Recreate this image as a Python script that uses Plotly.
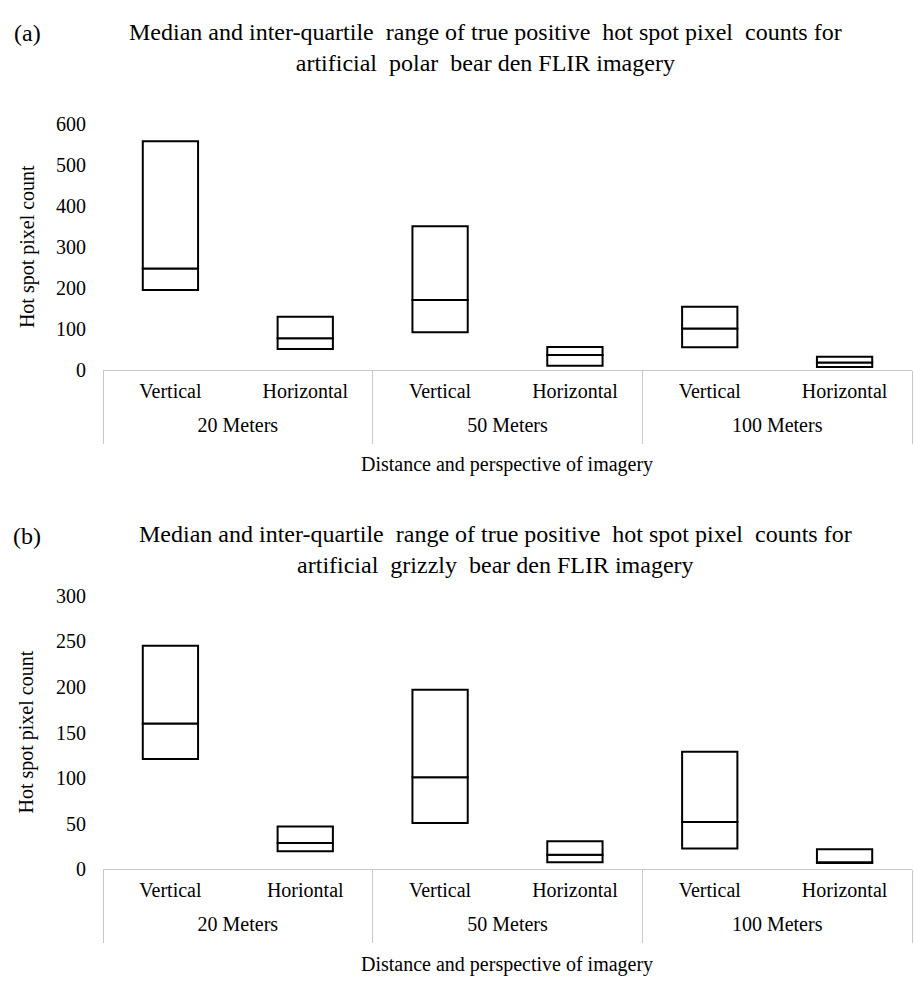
import plotly.graph_objects as go

# ---- data ----
groups = ["20 Meters", "20 Meters", "50 Meters", "50 Meters", "100 Meters", "100 Meters"]
persp_a = ["Vertical", "Horizontal", "Vertical", "Horizontal", "Vertical", "Horizontal"]
persp_b = ["Vertical", "Horiontal", "Vertical", "Horizontal", "Vertical", "Horizontal"]

q1_a = [195, 51, 92, 10, 55, 7]
med_a = [248, 77, 171, 36, 101, 18]
q3_a = [559, 130, 351, 56, 154, 32]

q1_b = [121, 20, 51, 8, 23, 7]
med_b = [160, 29, 101, 16, 52, 8]
q3_b = [245, 47, 197, 31, 129, 22]

title_a = ("Median and inter-quartile  range of true positive  hot spot pixel  counts for"
           "<br>artificial  polar  bear den FLIR imagery")
title_b = ("Median and inter-quartile  range of true positive  hot spot pixel  counts for"
           "<br>artificial  grizzly  bear den FLIR imagery")
ytitle = "Hot spot pixel count"
xtitle = "Distance and perspective of imagery"

W, H = 914, 988
FONT = "Liberation Serif, Times New Roman, serif"
GRAY = "#c8c8c8"


def px_x(p):
    return p / W


def px_y(p):
    return 1 - p / H


# group structure derived from the category list
uniq_groups = list(dict.fromkeys(groups))
group_centers = []
group_bounds = [-0.5]
for g in uniq_groups:
    idx = [i for i, gg in enumerate(groups) if gg == g]
    group_centers.append(sum(idx) / len(idx))
    group_bounds.append(max(idx) + 0.5)
xrange_ = [-0.5, len(groups) - 0.5]

fig = go.Figure()

panels = [("x", "y", "x3", "x5", persp_a, q1_a, med_a, q3_a),
          ("x2", "y2", "x4", "x6", persp_b, q1_b, med_b, q3_b)]

for xa, ya, xg, xd, persp, q1, med, q3 in panels:
    cats = [f"{g} | {p}" for g, p in zip(groups, persp)]
    for base, top in [(q1, med), (med, q3)]:
        fig.add_trace(go.Bar(
            x=cats, base=base, y=[t - b for t, b in zip(top, base)],
            xaxis=xa, yaxis=ya, width=0.41,
            marker=dict(color="white", line=dict(color="black", width=2)),
            hoverinfo="skip", showlegend=False))
    # invisible helper traces so the group-label and divider axes are drawn
    for helper_axis, xs in [(xg, group_centers), (xd, group_bounds)]:
        fig.add_trace(go.Scatter(
            x=xs, y=[0] * len(xs), xaxis=helper_axis, yaxis=ya, mode="markers",
            marker=dict(opacity=0, size=1), hoverinfo="skip", showlegend=False))

xdom = [px_x(103), px_x(912)]
tickfont = dict(family=FONT, size=20, color="black")

layout = dict(
    width=W, height=H,
    margin=dict(l=0, r=0, t=0, b=0),
    paper_bgcolor="white", plot_bgcolor="white",
    barmode="overlay",
    font=dict(family=FONT, color="black"),
)

for k, (xa, ya, xg, xd, persp, q1, med, q3) in enumerate(panels):
    cats = [f"{g} | {p}" for g, p in zip(groups, persp)]
    xname = "xaxis" if xa == "x" else "xaxis" + xa[1:]
    yname = "yaxis" if ya == "y" else "yaxis" + ya[1:]
    layout[xname] = dict(
        domain=xdom, anchor=ya, type="category", range=xrange_,
        tickvals=cats, ticktext=persp, ticks="", ticklabelstandoff=3,
        showline=True, linecolor=GRAY, linewidth=1, showgrid=False, zeroline=False,
        tickfont=tickfont, fixedrange=True)
    layout["xaxis" + xg[1:]] = dict(
        overlaying=xa, anchor=ya, type="linear", range=xrange_,
        tickvals=group_centers, ticktext=uniq_groups, ticks="", ticklabelstandoff=41,
        showline=False, showgrid=False, zeroline=False, tickfont=tickfont,
        fixedrange=True)
    layout["xaxis" + xd[1:]] = dict(
        overlaying=xa, anchor=ya, type="linear", range=xrange_,
        tickvals=group_bounds, ticktext=[""] * len(group_bounds), showticklabels=False,
        ticks="outside", ticklen=73, tickwidth=1, tickcolor=GRAY,
        showline=False, showgrid=False, zeroline=False, fixedrange=True)
    if k == 0:
        ydom, yr, dt = [px_y(367), px_y(116)], [0, 600], 100
    else:
        ydom, yr, dt = [px_y(878), px_y(598)], [0, 300], 50
    layout[yname] = dict(
        anchor=xa, domain=ydom, range=yr, dtick=dt,
        showgrid=False, zeroline=False, showline=False, ticks="",
        tickfont=tickfont, ticklabelstandoff=16, fixedrange=True)

fig.update_layout(**layout)

annots = [
    dict(text="(a)", x=px_x(27), y=px_y(23), size=24),
    dict(text=title_a, x=px_x(486), y=px_y(37), size=24),
    dict(text=ytitle, x=px_x(27), y=px_y(241.5), size=20, angle=-90),
    dict(text=xtitle, x=px_x(507), y=px_y(464), size=20),
    dict(text="(b)", x=px_x(27), y=px_y(537), size=24),
    dict(text=title_b, x=px_x(495), y=px_y(551), size=24),
    dict(text=ytitle, x=px_x(27), y=px_y(738), size=20, angle=-90),
    dict(text=xtitle, x=px_x(507), y=px_y(975), size=20),
]
for a in annots:
    fig.add_annotation(
        text=a["text"], x=a["x"], y=a["y"], xref="paper", yref="paper",
        xanchor="center", yanchor="middle", showarrow=False,
        textangle=a.get("angle", 0),
        font=dict(family=FONT, size=a["size"], color="black"))

fig.write_html("out.html", config={"displayModeBar": False},
               post_script="document.body.style.margin='0';")
